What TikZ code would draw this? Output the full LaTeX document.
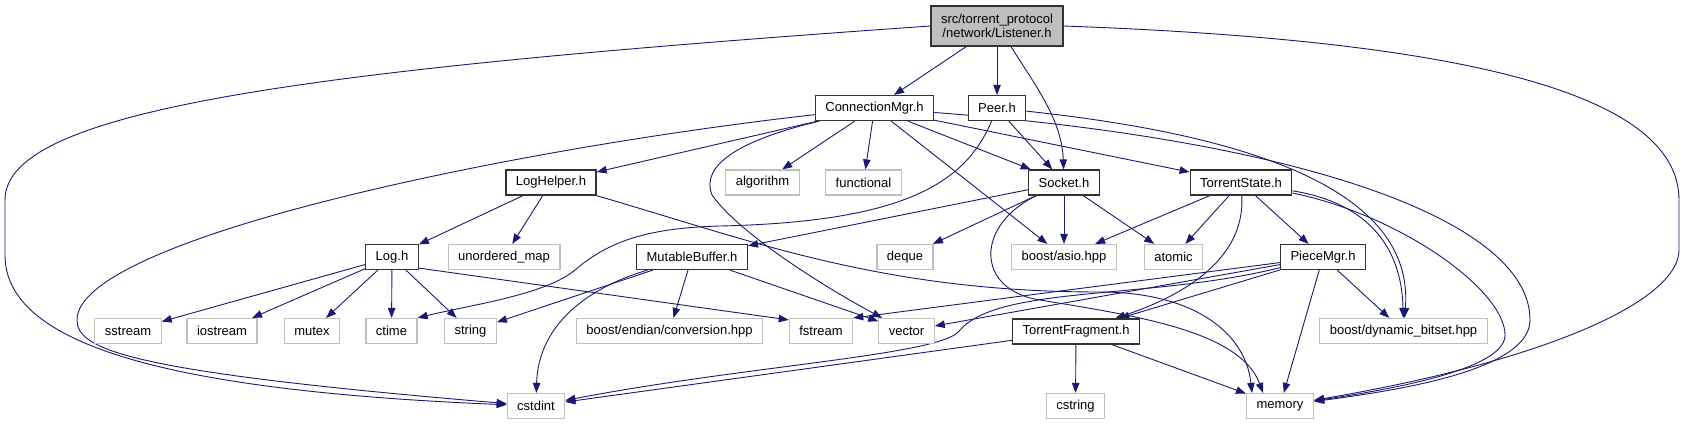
\documentclass[tikz,border=0pt]{standalone}
\usepackage{fontspec}
\setmainfont{Liberation Sans}
\usepackage{tikz}
\usetikzlibrary{arrows.meta, backgrounds}
\definecolor{edgeblue}{HTML}{191970}
\definecolor{extgray}{HTML}{BFBFBF}
\definecolor{rootbg}{HTML}{BFBFBF}
\definecolor{hdrline}{HTML}{333333}
\tikzset{
  hbox/.style={draw=hdrline, line width=1.2pt, fill=white,
               minimum height=25pt, inner xsep=10pt, inner ysep=2pt,
               font=\fontsize{13}{14.5}\selectfont},
  extbox/.style={hbox, draw=extgray},
  rootbox/.style={hbox, fill=rootbg, minimum height=40pt, align=center},
  arr/.style={-{Triangle[length=10pt, width=7.5pt]}, line width=0.9pt, edgeblue},
}

\begin{document}
\begin{tikzpicture}[x=1pt, y=-1pt]
  \useasboundingbox (0,0) rectangle (1685,425);

  %% row 1
  \node[rootbox] (lis) at (997,26) {src/torrent\_protocol\\/network/Listener.h};

  %% row 2
  \node[hbox] (cmgr) at (874.5,108) {ConnectionMgr.h};
  \node[hbox] (peer) at (997,108) {Peer.h};

  %% row 3
  \node[hbox]   (lhelp)  at (551,182.5)   {LogHelper.h};
  \node[extbox] (algo)   at (762.5,182.5) {algorithm};
  \node[extbox] (func)   at (863.5,182.5) {functional};
  \node[hbox]   (sock)   at (1064,182.5)  {Socket.h};
  \node[hbox]   (tstate) at (1241,182.5)  {TorrentState.h};

  %% row 4
  \node[hbox]   (log)   at (392,257)    {Log.h};
  \node[extbox] (umap)  at (504,257)    {unordered\_map};
  \node[hbox]   (mbuf)  at (692,257)    {MutableBuffer.h};
  \node[extbox] (deque) at (905,257)    {deque};
  \node[extbox] (asio)  at (1064,257)   {boost/asio.hpp};
  \node[extbox] (atom)  at (1173.5,257) {atomic};
  \node[hbox]   (pmgr)  at (1323,257)   {PieceMgr.h};

  %% row 5
  \node[extbox] (sstr)   at (128,331)    {sstream};
  \node[extbox] (iostr)  at (222,331)    {iostream};
  \node[extbox] (mtx)    at (312,331)    {mutex};
  \node[extbox] (ctime)  at (391.5,331)  {ctime};
  \node[extbox] (str)    at (470.5,331)  {string};
  \node[extbox] (endian) at (669.5,331)  {boost/endian/conversion.hpp};
  \node[extbox] (fstr)   at (821,331)    {fstream};
  \node[extbox] (vec)    at (906.5,331)  {vector};
  \node[hbox]   (tfrag)  at (1076,331.5) {TorrentFragment.h};
  \node[extbox] (bitset) at (1403.5,331) {boost/dynamic\_bitset.hpp};

  %% row 6
  \node[extbox] (cint) at (536,406)    {cstdint};
  \node[extbox] (cstr) at (1075.5,406) {cstring};
  \node[extbox] (mem)  at (1280,406)   {memory};

  \begin{scope}[on background layer]
    %% Listener.h
    \draw[arr] (lis) -- (cmgr);
    \draw[arr] (lis) -- (peer);
    \draw[arr] ([xshift=14pt]lis.south) .. controls (1035,85) and (1062,120) .. (sock);
    \draw[arr] (lis.west) .. controls (300,70) and (5,110) .. (5,200) -- (5,255)
      .. controls (5,340) and (150,390) .. (cint);
    \draw[arr] (lis.east) .. controls (1450,40) and (1679,90) .. (1679,200) -- (1679,250)
      .. controls (1679,300) and (1550,360) .. (mem);

    %% ConnectionMgr.h
    \draw[arr] (cmgr) -- (lhelp);
    \draw[arr] (cmgr) -- (algo);
    \draw[arr] (cmgr) -- (func);
    \draw[arr] (cmgr) -- (sock);
    \draw[arr] (cmgr) -- (tstate);
    \draw[arr] (cmgr) -- (asio);
    \draw[arr] (cmgr) .. controls (740,140) and (700,165) .. (712,195)
      .. controls (740,235) and (830,290) .. (vec);
    \draw[arr] (cmgr) .. controls (500,150) and (77,240) .. (77,320)
      .. controls (77,350) and (130,372) .. (cint);
    \draw[arr] (cmgr) .. controls (1300,140) and (1530,220) .. (1530,320)
      .. controls (1530,370) and (1400,390) .. (mem);

    %% Peer.h
    \draw[arr] (peer) -- (sock);
    \draw[arr] (peer) .. controls (965,185) and (900,222) .. (720,226)
      .. controls (650,228) and (610,240) .. (575,270)
      .. controls (545,295) and (470,305) .. (ctime.north east);
    \draw[arr] (peer) .. controls (1250,135) and (1415,190) .. (bitset);

    %% LogHelper.h
    \draw[arr] (lhelp) -- (log);
    \draw[arr] (lhelp) -- (umap);
    \draw[arr] (lhelp) .. controls (750,240) and (880,292) .. (1100,292)
      .. controls (1190,292) and (1245,330) .. ([xshift=-28pt]mem.north);

    %% Socket.h
    \draw[arr] (sock) -- (mbuf);
    \draw[arr] (sock) -- (deque);
    \draw[arr] (sock) -- (asio);
    \draw[arr] (sock) -- (atom);
    \draw[arr] (sock) .. controls (975,225) and (975,290) .. (1040,300)
      .. controls (1130,315) and (1240,330) .. ([xshift=-17pt]mem.north);

    %% TorrentState.h
    \draw[arr] (tstate) -- (asio);
    \draw[arr] (tstate) -- (atom);
    \draw[arr] (tstate) -- (pmgr);
    \draw[arr] (tstate) .. controls (1245,250) and (1200,290) .. (tfrag);
    \draw[arr] (tstate) .. controls (1380,205) and (1402,260) .. (bitset);
    \draw[arr] (tstate) .. controls (1400,215) and (1505,290) .. (1505,335)
      .. controls (1505,365) and (1420,385) .. (mem);

    %% Log.h
    \draw[arr] (log) -- (sstr);
    \draw[arr] (log) -- (iostr);
    \draw[arr] (log) -- (mtx);
    \draw[arr] (log) -- (ctime);
    \draw[arr] (log) -- (str);
    \draw[arr] ([yshift=2pt]log.south east) -- ([yshift=-2pt]fstr.north west);

    %% MutableBuffer.h
    \draw[arr] (mbuf) -- (str);
    \draw[arr] (mbuf) -- (endian);
    \draw[arr] (mbuf) -- (vec);
    \draw[arr] (mbuf) .. controls (580,290) and (538,330) .. (cint);

    %% PieceMgr.h
    \draw[arr] (pmgr) -- (fstr.north east);
    \draw[arr] (pmgr) -- (vec);
    \draw[arr] (pmgr) -- (tfrag);
    \draw[arr] (pmgr) -- (bitset);
    \draw[arr] (pmgr) -- (mem);
    \draw[arr] (pmgr) .. controls (1150,300) and (1000,285) .. (960,330)
      .. controls (945,355) and (750,365) .. (cint);

    %% TorrentFragment.h
    \draw[arr] (tfrag) -- (cint);
    \draw[arr] (tfrag) -- (cstr);
    \draw[arr] (tfrag) -- (mem);
  \end{scope}
\end{tikzpicture}
\end{document}
